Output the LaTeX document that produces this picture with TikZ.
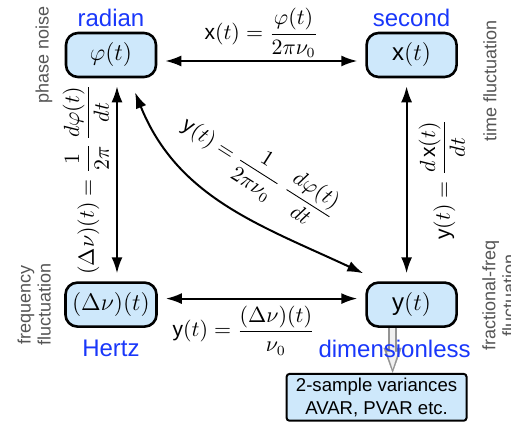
\documentclass[tikz,border=0pt]{standalone}
\usepackage{amsmath}
\usepackage{fontspec}
\setsansfont{Liberation Sans}
\usetikzlibrary{arrows.meta,positioning}
\definecolor{qfill}{RGB}{206,232,251}
\definecolor{unitblue}{RGB}{25,55,250}
\definecolor{notegray}{RGB}{85,85,85}

\begin{document}
\begin{tikzpicture}[
  node distance=101.5pt and 104pt,
  qty/.style={draw,line width=1.3pt,rounded corners=6pt,fill=qfill,minimum width=45pt,minimum height=22pt,font=\fontsize{12}{14}\selectfont},
  resultbox/.style={draw,line width=1pt,rounded corners=1.5pt,fill=qfill,minimum width=90pt,minimum height=23pt,inner sep=2pt,align=center,font=\sffamily\fontsize{9.3}{11.5}\selectfont},
  unit/.style={text=unitblue,inner sep=0pt,font=\sffamily\fontsize{12}{14}\selectfont},
  note/.style={text=notegray,rotate=90,inner sep=0pt,align=center,font=\sffamily\fontsize{9}{10}\selectfont},
  link/.style={line width=1pt,{Latex[length=8pt,width=5.5pt]}-{Latex[length=8pt,width=5.5pt]},shorten <=4pt,shorten >=4pt},
  rel/.style={font=\fontsize{10.5}{12}\selectfont,inner sep=1pt}
]
  \useasboundingbox (-55.5pt,-183.5pt) rectangle (200pt,27.5pt);

  % the four quantities
  \node[qty] (phi) {$\varphi(t)$};
  \node[qty,right=of phi] (xn) {$\mathsf{x}(t)$};
  \node[qty,below=of phi] (dnu) {$(\Delta\nu)(t)$};
  \node[qty,below=of xn] (yn) {$\mathsf{y}(t)$};
  \node[resultbox,below=22.5pt of yn,xshift=-17.5pt] (var) {2-sample variances\\AVAR, PVAR etc.};

  % conversions
  \draw[link] ([yshift=-3pt]phi.east) -- node[rel,above]{$\mathsf{x}(t)=\dfrac{\varphi(t)}{2\pi\nu_0}$} ([yshift=-3pt]xn.west);
  \draw[link] ([yshift=3pt]dnu.east) -- node[rel,below=2pt,xshift=-9pt]{$\mathsf{y}(t)=\dfrac{(\Delta\nu)(t)}{\nu_0}$} ([yshift=3pt]yn.west);
  \draw[link] ([xshift=3pt]dnu.north) -- node[rel,sloped,above=2.5pt]{$(\Delta\nu)(t)=\dfrac{1}{2\pi}\,\dfrac{d\varphi(t)}{dt}$} ([xshift=3pt]phi.south);
  \draw[link] ([xshift=-2.5pt]yn.north) -- node[rel,sloped,below=4.5pt]{$\mathsf{y}(t)=\dfrac{d\,\mathsf{x}(t)}{dt}$} ([xshift=-2.5pt]xn.south);
  \draw[link,shorten <=0pt,shorten >=0pt] ([shift={(12pt,-7pt)}]phi.south) to[out=-68,in=155]
    node[rel,sloped,above=9pt,pos=0.53]{$\mathsf{y}(t)=\dfrac{1}{2\pi\nu_0}\;\dfrac{d\varphi(t)}{dt}$} ([shift={(-1pt,4pt)}]yn.north west);

  % hollow arrow to the variances
  \draw[line width=4.5pt,gray!85,-{Triangle[length=12.5pt,width=9pt,line width=0.1pt]}] ([xshift=-9.5pt]yn.south) -- ([xshift=-9.5pt]yn.south |- var.north);
  \draw[line width=2.2pt,gray!12,shorten >=2pt,-{Triangle[length=8.5pt,width=5.5pt,line width=0.1pt]}] ([xshift=-9.5pt]yn.south) -- ([xshift=-9.5pt]yn.south |- var.north);

  % units
  \node[unit,above=2.5pt of phi] (rad) {radian};
  \node[unit,above=2.5pt of xn] (sec) {second};
  \node[unit,below=6pt of dnu] (hz) {Hertz};
  \node[unit,below=6pt of yn,xshift=-8.5pt] (dim) {dimensionless};

  % what each quantity is
  \node[note,anchor=south] (phn) at ([xshift=-6pt]phi.west) {phase noise};
  \node[note,anchor=north] (tfl) at ([xshift=12.5pt,yshift=-13pt]xn.east) {time fluctuation};
  \node[note,anchor=south] (ffl) at ([xshift=-6.5pt]dnu.west) {frequency\\fluctuation};
  \node[note,anchor=north] (frf) at ([xshift=12pt,yshift=4.5pt]yn.east) {fractional-freq\\fluctuation};
\end{tikzpicture}
\end{document}
